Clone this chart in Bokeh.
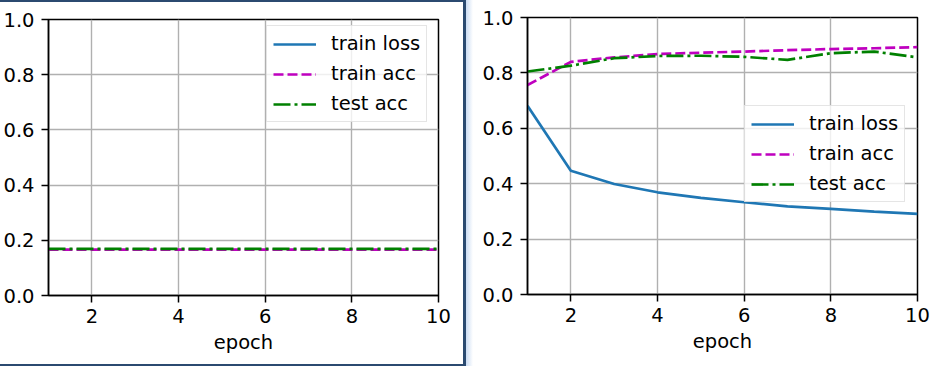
import math
from bokeh.plotting import figure
from bokeh.models import (FixedTicker, Legend, LegendItem, ColumnDataSource, Div, Range1d)
from bokeh.layouts import row, column
from bokeh.embed import file_html
from bokeh.resources import INLINE

NAN = float("nan")

# ---------------- data ----------------
epochs = [1, 2, 3, 4, 5, 6, 7, 8, 9, 10]

# left panel (diverged run: loss is NaN, accuracies flat)
left_train_loss = [NAN, NAN, NAN, NAN, NAN, NAN, NAN, NAN, NAN, NAN]
left_train_acc = [0.166, 0.166, 0.166, 0.166, 0.166, 0.166, 0.166, 0.166, 0.166, 0.166]
left_test_acc = [0.169, 0.169, 0.169, 0.169, 0.169, 0.169, 0.169, 0.169, 0.169, 0.169]

# right panel
right_train_loss = [0.681, 0.447, 0.399, 0.369, 0.349, 0.333, 0.318, 0.309, 0.299, 0.291]
right_train_acc = [0.756, 0.840, 0.856, 0.868, 0.873, 0.877, 0.882, 0.886, 0.889, 0.893]
right_test_acc = [0.805, 0.826, 0.853, 0.861, 0.862, 0.858, 0.847, 0.871, 0.877, 0.856]

x_ticks = [2, 4, 6, 8, 10]
x_tick_labels = ["2", "4", "6", "8", "10"]
y_ticks = [0.0, 0.2, 0.4, 0.6, 0.8, 1.0]
y_tick_labels = ["0.0", "0.2", "0.4", "0.6", "0.8", "1.0"]
series_names = ["train loss", "train acc", "test acc"]

FONT = "DejaVu Sans"
FS = "19.5px"
BLUE = "#1f77b4"
MAGENTA = "#bf00bf"
GREEN = "#008000"
FRAME_BLUE = "#2b4a70"


def make_panel(width, height, bl, br, bt, bb, loss, tacc, vacc, leg_loc):
    p = figure(width=width, height=height, output_backend="svg", toolbar_location=None,
               x_range=Range1d(1, 10), y_range=Range1d(0, 1),
               min_border_left=bl, min_border_right=br, min_border_top=bt, min_border_bottom=bb)
    src = ColumnDataSource(dict(x=epochs, loss=loss, tacc=tacc, vacc=vacc))
    r1 = p.line("x", "loss", source=src, line_color=BLUE, line_width=2.7)
    r2 = p.line("x", "tacc", source=src, line_color=MAGENTA, line_width=2.7, line_dash="10 4")
    r3 = p.line("x", "vacc", source=src, line_color=GREEN, line_width=2.7, line_dash="17 4 3 4")

    p.outline_line_color = "black"
    p.outline_line_width = 1.5
    p.outline_line_alpha = 1
    p.background_fill_color = "white"
    p.border_fill_color = "white"

    for ax in (p.xaxis[0], p.yaxis[0]):
        ax.axis_line_color = "black"
        ax.axis_line_width = 1.5
        ax.major_tick_line_color = "black"
        ax.major_tick_line_width = 1.5
        ax.major_tick_out = 7
        ax.major_tick_in = 0
        ax.minor_tick_line_color = None
        ax.major_label_text_font = FONT
        ax.major_label_text_font_size = FS
        ax.major_label_text_color = "black"
        ax.axis_label_text_font = FONT
        ax.axis_label_text_font_size = FS
        ax.axis_label_text_font_style = "normal"
        ax.axis_label_text_color = "black"

    p.xaxis[0].ticker = FixedTicker(ticks=x_ticks)
    p.xaxis[0].major_label_overrides = dict(zip(x_ticks, x_tick_labels))
    p.xaxis[0].major_label_standoff = 6
    p.xaxis[0].axis_label = "epoch"
    p.xaxis[0].axis_label_standoff = 5
    p.yaxis[0].ticker = FixedTicker(ticks=y_ticks)
    p.yaxis[0].major_label_overrides = dict(zip(y_ticks, y_tick_labels))
    p.yaxis[0].major_label_standoff = 7

    for g in (p.xgrid[0], p.ygrid[0]):
        g.grid_line_color = "#b0b0b0"
        g.grid_line_width = 1.4
    p.xgrid[0].ticker = FixedTicker(ticks=x_ticks)
    p.ygrid[0].ticker = FixedTicker(ticks=y_ticks)

    legend = Legend(items=[LegendItem(label=series_names[0], renderers=[r1]),
                           LegendItem(label=series_names[1], renderers=[r2]),
                           LegendItem(label=series_names[2], renderers=[r3])],
                    location=leg_loc)
    legend.label_text_font = FONT
    legend.label_text_font_size = FS
    legend.label_text_color = "black"
    legend.glyph_width = 43
    legend.glyph_height = 22
    legend.label_height = 22
    legend.label_standoff = 15
    legend.spacing = 7
    legend.padding = 6
    legend.margin = 0
    legend.border_line_color = "#cccccc"
    legend.border_line_width = 1
    legend.background_fill_color = "white"
    legend.background_fill_alpha = 0.8
    p.add_layout(legend)
    return p


left = make_panel(463, 362, 48, 25, 17, 69, left_train_loss, left_train_acc, left_test_acc, (218, 173))
right = make_panel(470, 366, 54, 26, 17, 72, right_train_loss, right_train_acc, right_test_acc, (217, 92))

top_line = Div(text="", width=463, height=2, margin=0, styles={"background": FRAME_BLUE})
bottom_line = Div(text="", width=463, height=2, margin=0, styles={"background": FRAME_BLUE})
left_col = column(top_line, left, bottom_line, spacing=0, margin=0)
vline = Div(text="", width=3, height=366, margin=0, styles={"background": FRAME_BLUE})
shade = Div(text="", width=7, height=366, margin=0,
            styles={"background": "linear-gradient(to right, #cbdcf3, #ffffff)"})

layout = row(left_col, vline, shade, right, spacing=0, margin=0)

open("out.html", "w").write(file_html(layout, INLINE))
